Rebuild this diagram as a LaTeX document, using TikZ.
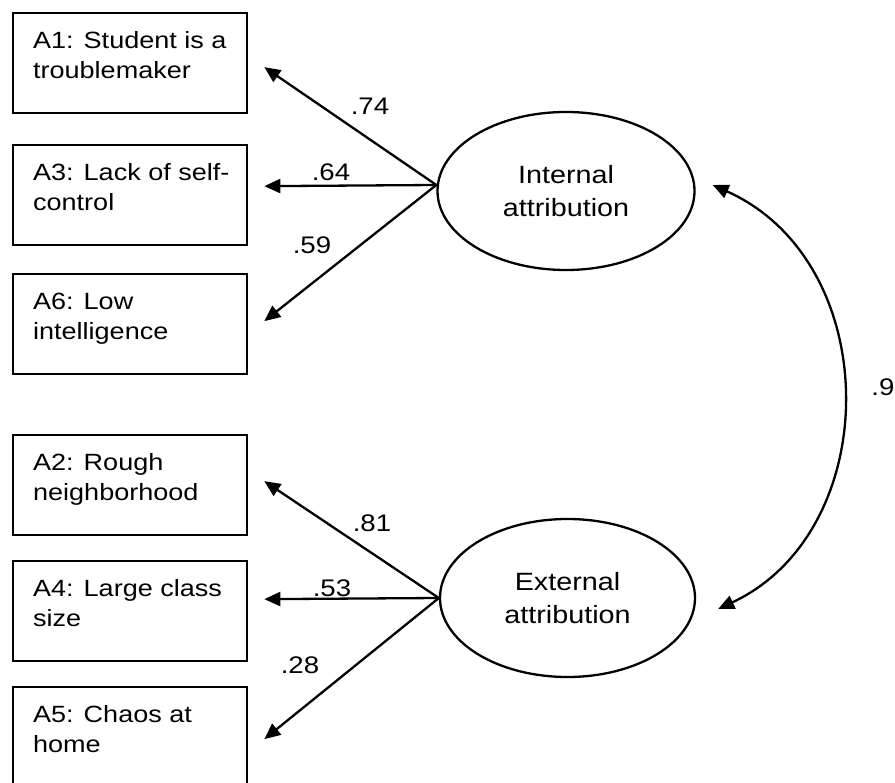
\documentclass[tikz,border=0pt]{standalone}
\usepackage{fontspec}
\setmainfont{Liberation Sans}[FakeStretch=1.15]
\usetikzlibrary{arrows.meta,shapes.geometric}
\newcommand\boxtxt[2]{\parbox[c][100pt][t]{234pt}{\fontsize{23.5}{30}\selectfont\raggedright\leftskip=20pt\vspace*{14pt}\strut #1\\#2}}
\tikzset{
  itembox/.style={draw, line width=2.3pt, inner sep=0pt, anchor=north west},
  latent/.style={draw, ellipse, line width=2.3pt, inner sep=0pt, align=center,
    font=\fontsize{25}{33}\selectfont},
  loadarrow/.style={line width=2.3pt, -{Triangle[length=16pt,width=14pt]}},
  corrarrow/.style={line width=2.3pt, {Triangle[length=16pt,width=14pt]}-{Triangle[length=16pt,width=14pt]}},
  coef/.style={inner sep=0pt, font=\fontsize{24}{28}\selectfont}
}
\begin{document}
\begin{tikzpicture}[x=1pt,y=-1pt]
\useasboundingbox (0,0) rectangle (895,783);
% indicator boxes
\node[itembox] (a1) at (12,12)  {\boxtxt{A1: Student is a}{troublemaker}};
\node[itembox] (a3) at (12,144) {\boxtxt{A3: Lack of self-}{control}};
\node[itembox] (a6) at (12,273) {\boxtxt{A6: Low}{intelligence}};
\node[itembox] (a2) at (12,434) {\boxtxt{A2: Rough}{neighborhood}};
\node[itembox] (a4) at (12,560) {\boxtxt{A4: Large class}{size}};
\node[itembox] (a5) at (12,686) {\boxtxt{A5: Chaos at}{home}};
% latent factors
\node[latent, minimum width=257pt, minimum height=158pt] (int) at (566,191) {Internal\\attribution};
\node[latent, minimum width=255pt, minimum height=158pt] (ext) at (567.5,598) {External\\attribution};
% loadings
\draw[loadarrow] ([yshift=6pt]int.west) -- ([shift={(16pt,-4pt)}]a1.east);
\draw[loadarrow] ([yshift=6pt]int.west) -- ([shift={(16pt,9pt)}]a3.east);
\draw[loadarrow] ([yshift=6pt]int.west) -- ([shift={(16pt,3pt)}]a6.east);
\draw[loadarrow] (ext.west) -- ([shift={(16pt,4pt)}]a2.east);
\draw[loadarrow] (ext.west) -- ([shift={(16pt,12pt)}]a4.east);
\draw[loadarrow] (ext.west) -- ([shift={(16pt,-2pt)}]a5.east);
% coefficients
\node[coef] (l74) at (370,106) {.74};
\node[coef] (l64) at (331,172) {.64};
\node[coef] (l59) at (312,245) {.59};
\node[coef] (l81) at (372,523) {.81};
\node[coef] (l53) at (332,588) {.53};
\node[coef] (l28) at (300,665) {.28};
% correlation
\draw[corrarrow] ([shift={(17pt,6pt)}]int.east) .. controls (885,262) and (885,531) .. ([shift={(22pt,-11pt)}]ext.east);
\node[coef] (l9) at (883,387) {.9};
\end{tikzpicture}
\end{document}
